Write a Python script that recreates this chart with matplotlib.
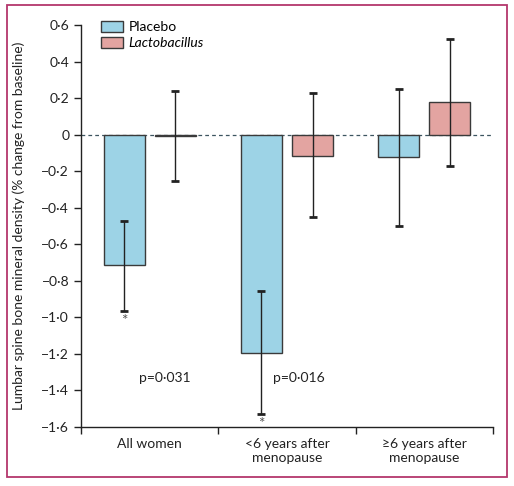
import numpy as np
import matplotlib
matplotlib.use("Agg")
import matplotlib.pyplot as plt
from matplotlib.patches import Rectangle, Patch

plt.rcParams['font.family'] = ['Lato', 'DejaVu Sans']

# data
groups = ['All women', '<6 years after\nmenopause', '≥6 years after\nmenopause']
placebo = [-0.715, -1.195, -0.125]
placebo_lo = [-0.965, -1.53, -0.50]
placebo_hi = [-0.47, -0.855, 0.25]
lacto = [-0.01, -0.115, 0.178]
lacto_lo = [-0.255, -0.452, -0.172]
lacto_hi = [0.238, 0.228, 0.525]
p_texts = ['p=0·031', 'p=0·016']
p_pos = [(-0.08, -1.33), (0.90, -1.33)]

c_plac = '#9dd3e6'
c_lact = '#e3a4a1'
edge = '#3a3a3a'
border = '#b4376c'

fig = plt.figure(figsize=(5.14, 4.86), dpi=100)
ax = fig.add_axes([81/514, 1-427/486, 412/514, 402/486])

x = np.arange(len(groups))
w = 0.30
off = 0.186

pl = np.array(placebo)
la = np.array(lacto)
ax.bar(x - off, pl, w, color=c_plac, edgecolor=edge, linewidth=1, zorder=2)
ax.bar(x + off, la, w, color=c_lact, edgecolor=edge, linewidth=1, zorder=2)

perr = [pl - np.array(placebo_lo), np.array(placebo_hi) - pl]
lerr = [la - np.array(lacto_lo), np.array(lacto_hi) - la]
ax.errorbar(x - off, pl, yerr=perr, fmt='none', ecolor='#222222', elinewidth=1,
            capsize=3, capthick=2, zorder=3)
ax.errorbar(x + off, la, yerr=lerr, fmt='none', ecolor='#222222', elinewidth=1,
            capsize=3, capthick=2, zorder=3)

# asterisks under first two placebo bars
for i in range(2):
    ax.text(x[i] - off, placebo_lo[i] - 0.015, '*', ha='center', va='top',
            fontsize=11, color='#555555')

for t, (px, py) in zip(p_texts, p_pos):
    ax.text(px, py, t, fontsize=10, color='#222222', ha='left', va='center')

ax.axhline(0, color='#3d5560', lw=0.9, ls=(0, (3, 2.5)), zorder=1)

ax.set_xlim(-0.5, 2.5)
ax.set_ylim(-1.6, 0.6)

yt = np.round(np.arange(-1.6, 0.61, 0.2), 1)
def fmt(v):
    if v == 0:
        return '0'
    s = f'{abs(v):.1f}'.replace('.', '·')
    return ('−' if v < 0 else '') + s
ax.set_yticks(yt)
ax.set_yticklabels([fmt(v) for v in yt])

ax.set_xticks([-0.5, 0.5, 1.5, 2.5])
ax.set_xticklabels([])
ax.set_xticks(x, minor=True)
ax.set_xticklabels(groups, minor=True)
ax.tick_params(axis='x', which='minor', length=0, pad=8, labelsize=10, colors='#222222')
ax.tick_params(axis='x', which='major', length=5, width=1, color='#222222')
ax.tick_params(axis='y', length=5, width=1, labelsize=10, color='#222222', labelcolor='#222222')

for s in ['top', 'right']:
    ax.spines[s].set_visible(False)
for s in ['left', 'bottom']:
    ax.spines[s].set_color('#222222')
    ax.spines[s].set_linewidth(1)

ax.set_ylabel('Lumbar spine bone mineral density (% change from baseline)',
              fontsize=10, color='#222222', labelpad=12)

handles = [Patch(facecolor=c_plac, edgecolor=edge, label='Placebo'),
           Patch(facecolor=c_lact, edgecolor=edge, label='Lactobacillus')]
leg = ax.legend(handles=handles, loc='upper left', bbox_to_anchor=(0.035, 1.025),
                frameon=False, fontsize=10, handlelength=1.6, handleheight=0.9,
                handletextpad=0.4, labelspacing=0.25, borderaxespad=0)
leg.get_texts()[1].set_style('italic')

fig.patches.append(Rectangle((7/514, 1-477/486), 500/514, 472/486,
                             transform=fig.transFigure, fill=False,
                             edgecolor=border, linewidth=1.3))

fig.savefig('out.png', dpi=100)
